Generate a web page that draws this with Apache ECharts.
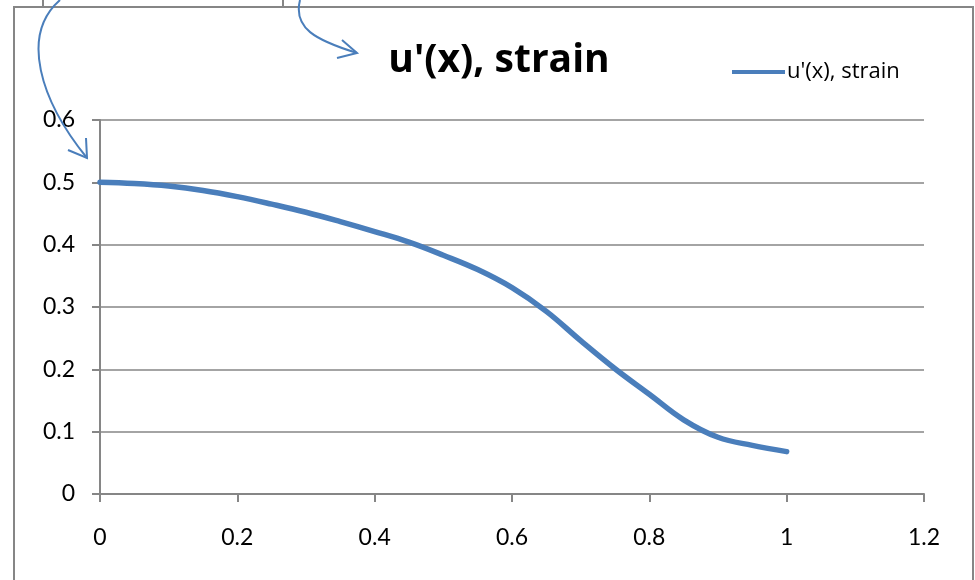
<!DOCTYPE html>
<html>
<head>
<meta charset="utf-8">
<script src="https://cdn.jsdelivr.net/npm/echarts@6/dist/echarts.min.js"></script>
<style>
  html, body { margin: 0; padding: 0; background: #fff; }
  #chart { width: 975px; height: 580px; }
</style>
</head>
<body>
<div id="chart"></div>
<script>
// strain values
const xValues = [0, 0.05, 0.1, 0.15, 0.2, 0.25, 0.3, 0.35, 0.4, 0.45, 0.5,
  0.55, 0.6, 0.65, 0.7, 0.75, 0.8, 0.85, 0.9, 0.95, 1.0];
const strainValues = [0.500, 0.498, 0.494, 0.487, 0.477, 0.465, 0.452, 0.437, 0.421, 0.404, 0.383,
  0.360, 0.331, 0.293, 0.246, 0.201, 0.160, 0.119, 0.091, 0.078, 0.068];
const seriesName = "u'(x), strain";

const blue = '#4A7EBB';
const gray = '#868686';
const font = 'Lato, "Open Sans", sans-serif';

const chart = echarts.init(document.getElementById('chart'));

const option = {
  backgroundColor: '#fff',
  animation: false,
  title: {
    text: seriesName,
    left: 494,
    top: 36,
    textAlign: 'center',
    textStyle: { fontFamily: '"Open Sans", sans-serif', fontSize: 39, fontWeight: 'bold', color: '#000' }
  },
  legend: {
    data: [seriesName],
    left: 727,
    top: 56,
    icon: 'rect',
    itemWidth: 53,
    itemHeight: 4,
    itemGap: 6,
    textStyle: { fontFamily: '"Open Sans", sans-serif', fontSize: 22, color: '#000', padding: [3, 0, 0, -3] }
  },
  grid: { left: 100, right: 51, top: 120, bottom: 86, containLabel: false },
  xAxis: {
    type: 'value',
    min: 0,
    max: 1.2,
    interval: 0.2,
    axisLine: { show: true, lineStyle: { color: gray, width: 2 } },
    axisTick: { show: true, length: 8, lineStyle: { color: gray, width: 2 } },
    splitLine: { show: false },
    axisLabel: {
      margin: 32,
      fontFamily: font,
      fontSize: 23,
      color: '#000',
      formatter: v => String(+v.toFixed(1))
    }
  },
  yAxis: {
    type: 'value',
    min: 0,
    max: 0.6,
    interval: 0.1,
    axisLine: { show: true, lineStyle: { color: gray, width: 2 } },
    axisTick: { show: true, length: 8, lineStyle: { color: gray, width: 2 } },
    splitLine: { show: true, lineStyle: { color: gray, width: 1.5 } },
    axisLabel: {
      margin: 25,
      fontFamily: font,
      fontSize: 23,
      color: '#000',
      formatter: v => String(+v.toFixed(1))
    }
  },
  series: [{
    name: seriesName,
    type: 'line',
    data: xValues.map((x, i) => [x, strainValues[i]]),
    smooth: 0.4,
    showSymbol: false,
    lineStyle: { color: blue, width: 5.5, cap: 'round' },
    itemStyle: { color: blue }
  }],
  graphic: [
    // outer chart border
    { type: 'rect', shape: { x: 14, y: 7, width: 959, height: 620 },
      style: { fill: 'none', stroke: gray, lineWidth: 2 }, z: 0 },
    // box sticking in from above
    { type: 'rect', shape: { x: 43, y: -20, width: 240, height: 27 },
      style: { fill: '#fff', stroke: gray, lineWidth: 2 }, z: 1 },
    // arrow pointing at the y axis
    { type: 'bezierCurve',
      shape: { x1: 60, y1: 0, cpx1: 20, cpy1: 35, cpx2: 40, cpy2: 100, x2: 87, y2: 158 },
      style: { fill: 'none', stroke: blue, lineWidth: 2 }, z: 10 },
    { type: 'polyline', shape: { points: [[68, 150], [87, 158], [86, 138]] },
      style: { fill: 'none', stroke: blue, lineWidth: 2 }, z: 10 },
    // arrow pointing at the title
    { type: 'bezierCurve',
      shape: { x1: 300, y1: 0, cpx1: 293, cpy1: 28, cpx2: 315, cpy2: 40, x2: 357, y2: 53 },
      style: { fill: 'none', stroke: blue, lineWidth: 2 }, z: 10 },
    { type: 'polyline', shape: { points: [[342, 40], [357, 53], [337, 58]] },
      style: { fill: 'none', stroke: blue, lineWidth: 2 }, z: 10 }
  ]
};

chart.setOption(option);
</script>
</body>
</html>
